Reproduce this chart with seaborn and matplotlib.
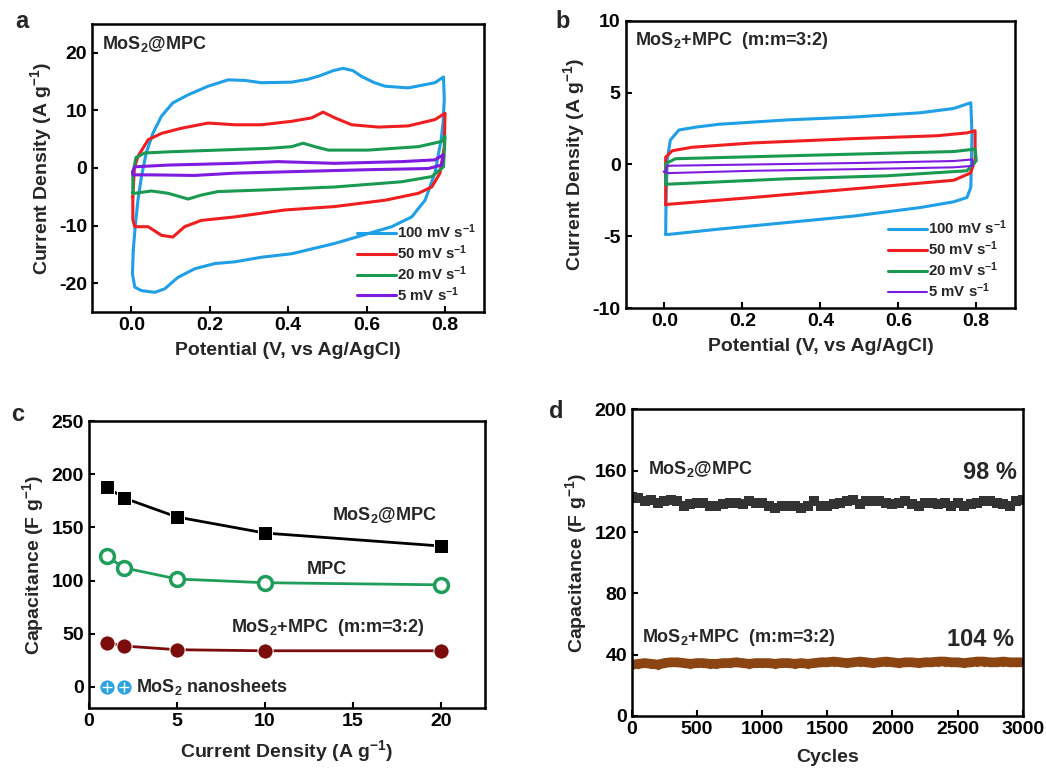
import numpy as np
import pandas as pd
import matplotlib
matplotlib.use("Agg")
import matplotlib.pyplot as plt
import seaborn as sns

# ---- panel a : CV of MoS2@MPC (closed loops, V / J) ----
a_v100 = [0.005, 0.010, 0.017, 0.026, 0.038, 0.055, 0.077, 0.106, 0.145, 0.196, 0.247, 0.290, 0.332, 0.409, 0.450,
          0.480, 0.515, 0.540, 0.565, 0.587, 0.620, 0.647, 0.706, 0.774, 0.796, 0.798, 0.795, 0.790, 0.774, 0.749,
          0.715, 0.664, 0.604, 0.519, 0.409, 0.332, 0.264, 0.213, 0.162, 0.119, 0.085, 0.060, 0.026, 0.009, 0.003, 0.005]
a_j100 = [-14.3, -10.2, -5.6, -1.5, 2.6, 6.0, 9.0, 11.3, 12.7, 14.2, 15.3, 15.2, 14.8, 14.9, 15.4,
          16.0, 16.9, 17.3, 16.9, 15.9, 14.8, 14.2, 13.9, 14.8, 15.8, 11.9, 8.0, 4.9, -0.9, -5.6,
          -8.5, -10.2, -11.4, -13.1, -14.9, -15.5, -16.3, -16.6, -17.5, -19.0, -21.0, -21.6, -21.3, -20.7, -18.4, -14.3]
a_v50 = [0.004, 0.008, 0.017, 0.043, 0.077, 0.128, 0.196, 0.264, 0.332, 0.409, 0.460, 0.489, 0.519, 0.562, 0.630,
         0.706, 0.774, 0.800, 0.798, 0.787, 0.766, 0.732, 0.647, 0.519, 0.391, 0.264, 0.179, 0.136, 0.106, 0.077,
         0.043, 0.009, 0.004, 0.004]
a_j50 = [-5.0, 0.0, 2.0, 4.9, 6.0, 6.9, 7.8, 7.5, 7.5, 8.1, 8.7, 9.7, 8.7, 7.5, 7.1,
         7.3, 8.4, 9.5, 3.7, -0.9, -3.3, -4.4, -5.6, -6.7, -7.3, -8.5, -9.1, -10.2, -12.0, -11.7,
         -10.2, -10.2, -9.0, -5.0]
a_v20 = [0.004, 0.004, 0.012, 0.034, 0.094, 0.221, 0.349, 0.409, 0.438, 0.468, 0.502, 0.604, 0.732, 0.791, 0.800,
         0.796, 0.766, 0.689, 0.519, 0.345, 0.221, 0.179, 0.145, 0.094, 0.051, 0.009, 0.004]
a_j20 = [-4.4, -1.0, 1.8, 2.6, 2.8, 3.1, 3.4, 3.7, 4.3, 3.7, 3.1, 3.1, 3.7, 4.6, 5.5,
         0.2, -1.5, -2.4, -3.3, -3.8, -4.1, -4.7, -5.4, -4.4, -4.0, -4.4, -4.4]
a_v5 = [0.004, 0.009, 0.094, 0.264, 0.374, 0.519, 0.689, 0.774, 0.796, 0.791, 0.757, 0.604, 0.434, 0.264, 0.162,
        0.051, 0.004, 0.004]
a_j5 = [-0.6, 0.2, 0.5, 0.8, 1.1, 0.8, 1.1, 1.4, 2.3, 0.5, -0.1, -0.3, -0.6, -0.9, -1.3,
        -1.2, -1.2, -0.6]

# ---- panel b : CV of MoS2+MPC (3:2) ----
b_v100 = [0.003, 0.004, 0.007, 0.015, 0.037, 0.080, 0.140, 0.312, 0.484, 0.656, 0.742, 0.786, 0.789, 0.786, 0.776,
          0.742, 0.656, 0.484, 0.312, 0.140, 0.011, 0.003]
b_j100 = [-4.87, -2.5, 0.3, 1.7, 2.4, 2.6, 2.8, 3.1, 3.3, 3.6, 3.9, 4.3, 2.1, -1.6, -2.3,
          -2.6, -3.0, -3.6, -4.05, -4.5, -4.87, -4.87]
b_v50 = [0.003, 0.003, 0.020, 0.071, 0.226, 0.484, 0.699, 0.776, 0.797, 0.797, 0.785, 0.742, 0.484, 0.226, 0.011, 0.003]
b_j50 = [-2.8, 0.5, 0.96, 1.2, 1.5, 1.8, 2.0, 2.2, 2.35, 0.3, -0.6, -1.1, -1.7, -2.3, -2.77, -2.8]
b_v20 = [0.003, 0.004, 0.028, 0.226, 0.484, 0.742, 0.797, 0.800, 0.776, 0.570, 0.312, 0.011, 0.003]
b_j20 = [-1.37, 0.07, 0.4, 0.54, 0.72, 0.9, 1.07, 0.26, -0.44, -0.79, -1.0, -1.37, -1.37]
b_v5 = [0.003, 0.007, 0.226, 0.484, 0.742, 0.790, 0.790, 0.742, 0.484, 0.226, 0.011, -0.002, 0.003]
b_j5 = [-0.5, -0.09, 0.0, 0.1, 0.24, 0.35, -0.1, -0.2, -0.33, -0.44, -0.6, -0.5, -0.5]

scan_labels = ["100 mV s$^{-1}$", "50 mV s$^{-1}$", "20 mV s$^{-1}$", "5 mV s$^{-1}$"]
scan_colors = ["#1E9FE6", "#F01E1E", "#1A9A50", "#7F1AE0"]

# ---- panel c : rate capability ----
c_rate = [1, 2, 5, 10, 20]
c_mos2_mpc = [188, 177.6, 159.8, 144.7, 132.5]
c_mpc = [123, 112, 101.5, 98, 96]
c_mix = [41.7, 38.5, 35, 34, 34]
c_sheet_rate = [1, 2]
c_sheet = [0, 0]

# ---- panel d : cycling ----
d_cycles = list(range(0, 3001, 50))
d_mos2_mpc = [143, 142, 140, 141, 139, 140, 141, 140, 137, 138, 139, 139, 137, 137, 138, 139, 139, 138, 140, 139,
              139, 137, 136, 137, 137, 137, 136, 137, 140, 137, 137, 138, 139, 140, 141, 138, 140, 140, 140, 139,
              138, 139, 140, 138, 137, 139, 139, 138, 139, 137, 139, 137, 138, 139, 140, 140, 139, 138, 137, 140, 141]
d_mix = [33.5, 34.0, 34.5, 34.0, 33.5, 34.5, 35.0, 35.0, 34.5, 34.0, 34.5, 34.5, 34.0, 34.0, 34.5, 34.5, 35.0, 34.5,
         34.0, 34.5, 34.5, 34.5, 34.0, 34.5, 34.5, 34.0, 34.5, 34.0, 34.5, 35.0, 35.0, 35.5, 35.0, 34.5, 35.0, 35.5,
         35.0, 34.5, 35.0, 35.5, 35.0, 34.5, 35.0, 35.0, 34.5, 35.0, 35.0, 35.5, 35.5, 35.0, 35.0, 34.5, 35.0, 35.5,
         35.5, 35.0, 35.0, 35.5, 35.0, 35.0, 35.0]

sns.set_style("ticks")
plt.rcParams['font.family'] = ['Liberation Sans', 'DejaVu Sans']
plt.rcParams['font.weight'] = 'bold'
plt.rcParams['axes.labelweight'] = 'bold'
plt.rcParams['mathtext.fontset'] = 'custom'
plt.rcParams['mathtext.rm'] = 'Liberation Sans:bold'
plt.rcParams['mathtext.bf'] = 'Liberation Sans:bold'
plt.rcParams['mathtext.it'] = 'Liberation Sans:bold'
plt.rcParams['mathtext.sf'] = 'Liberation Sans:bold'
plt.rcParams['mathtext.default'] = 'rm'
plt.rcParams['axes.unicode_minus'] = False
plt.rcParams['axes.linewidth'] = 1.8
plt.rcParams['xtick.direction'] = 'in'
plt.rcParams['ytick.direction'] = 'in'
plt.rcParams['xtick.major.size'] = 4
plt.rcParams['ytick.major.size'] = 4
plt.rcParams['xtick.major.width'] = 1.5
plt.rcParams['ytick.major.width'] = 1.5
plt.rcParams['xtick.labelsize'] = 14
plt.rcParams['ytick.labelsize'] = 14
plt.rcParams['axes.labelsize'] = 14
plt.rcParams['axes.edgecolor'] = 'black'
plt.rcParams['xtick.color'] = 'black'
plt.rcParams['ytick.color'] = 'black'

fig = plt.figure(figsize=(10.46, 7.74), dpi=100)
ax_a = fig.add_axes([0.088, 0.597, 0.375, 0.372])
ax_b = fig.add_axes([0.598, 0.602, 0.3726, 0.371])
ax_c = fig.add_axes([0.085, 0.085, 0.3786, 0.371])
ax_d = fig.add_axes([0.604, 0.075, 0.3738, 0.396])


def cv_panel(ax, loops, widths):
    for (v, j), lab, col, lw in zip(loops, scan_labels, scan_colors, widths):
        sns.lineplot(x=v, y=j, sort=False, estimator=None, color=col, lw=lw, label=lab, ax=ax)
    ax.set_xlim(-0.1, 0.9)
    ax.set_xticks([0.0, 0.2, 0.4, 0.6, 0.8])
    ax.set_xlabel("Potential (V, vs Ag/AgCl)", labelpad=6)
    ax.set_ylabel("Current Density (A g$^{-1}$)", labelpad=4)
    ax.legend(loc='lower right', frameon=False, fontsize=10.8, handlelength=2.6, handletextpad=0.1,
              labelspacing=0.15, borderaxespad=0.15)


cv_panel(ax_a, [(a_v100, a_j100), (a_v50, a_j50), (a_v20, a_j20), (a_v5, a_j5)], [2.2, 2.2, 2.2, 2.2])
ax_a.set_ylim(-25, 25)
ax_a.set_yticks([-20, -10, 0, 10, 20])
ax_a.text(0.025, 0.93, "MoS$_2$@MPC", transform=ax_a.transAxes, fontsize=13, va='center')

cv_panel(ax_b, [(b_v100, b_j100), (b_v50, b_j50), (b_v20, b_j20), (b_v5, b_j5)], [2.2, 2.2, 2.2, 1.5])
ax_b.set_ylim(-10, 10)
ax_b.set_yticks([-10, -5, 0, 5, 10])
ax_b.text(0.025, 0.93, "MoS$_2$+MPC  (m:m=3:2)", transform=ax_b.transAxes, fontsize=13, va='center')

# panel c
sns.lineplot(x=c_rate, y=c_mos2_mpc, color='black', lw=2, marker='s', markersize=10, ax=ax_c)
sns.lineplot(x=c_rate, y=c_mpc, color='#1E9E5A', lw=2, marker='o', markersize=10, markerfacecolor='white',
             markeredgecolor='#1E9E5A', markeredgewidth=2.5, ax=ax_c)
sns.lineplot(x=c_rate, y=c_mix, color='#7A0C0C', lw=2, marker='o', markersize=11, ax=ax_c)
sns.scatterplot(x=c_sheet_rate, y=c_sheet, color='#2AA3E0', s=90, edgecolor='#2AA3E0', ax=ax_c, zorder=3)
sns.scatterplot(x=c_sheet_rate, y=c_sheet, color='white', marker='+', s=45, linewidth=1, ax=ax_c, zorder=4)
ax_c.set_xlim(0, 22.5)
ax_c.set_ylim(-20, 250)
ax_c.set_xticks([0, 5, 10, 15, 20])
ax_c.set_yticks([0, 50, 100, 150, 200, 250])
ax_c.set_xlabel("Current Density (A g$^{-1}$)", labelpad=6)
ax_c.set_ylabel("Capacitance (F g$^{-1}$)", labelpad=4)
ax_c.text(13.8, 162, "MoS$_2$@MPC", fontsize=13, va='center')
ax_c.text(12.4, 110, "MPC", fontsize=13, va='center')
ax_c.text(8.1, 56, "MoS$_2$+MPC  (m:m=3:2)", fontsize=13, va='center')
ax_c.text(2.7, 0, "MoS$_2$ nanosheets", fontsize=13, va='center')

# panel d
sns.lineplot(x=d_cycles, y=d_mix, color='#8B4513', lw=7, marker='h', markersize=7, markeredgewidth=0, ax=ax_d)
sns.lineplot(x=d_cycles, y=d_mos2_mpc, color='#333333', lw=1.5, marker='s', markersize=7.5, markeredgewidth=0,
             drawstyle='steps-mid', ax=ax_d)
ax_d.set_xlim(0, 3000)
ax_d.set_ylim(0, 200)
ax_d.set_xticks(range(0, 3001, 500))
ax_d.set_yticks(range(0, 201, 40))
ax_d.set_xlabel("Cycles", labelpad=8)
ax_d.set_ylabel("Capacitance (F g$^{-1}$)", labelpad=4)
ax_d.text(125, 161, "MoS$_2$@MPC", fontsize=13, va='center')
ax_d.text(2955, 159, "98 %", fontsize=17, va='center', ha='right')
ax_d.text(79, 51, "MoS$_2$+MPC  (m:m=3:2)", fontsize=13, va='center')
ax_d.text(2932, 50, "104 %", fontsize=17, va='center', ha='right')

for lab, (x, y) in zip("abcd", [(0.021, 0.972), (0.538, 0.972), (0.017, 0.464), (0.532, 0.468)]):
    fig.text(x, y, lab, fontsize=17, fontweight='bold', ha='center', va='center')

fig.savefig("out.png", dpi=100)
